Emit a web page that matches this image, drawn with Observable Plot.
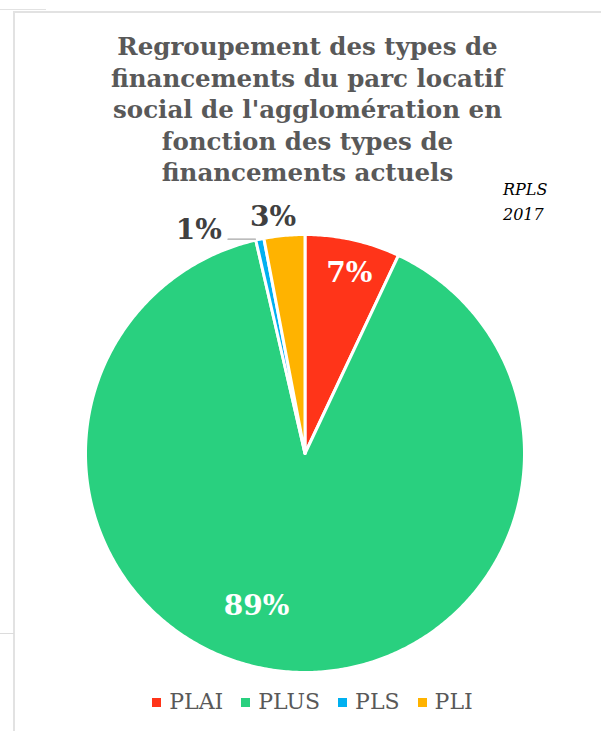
<!DOCTYPE html>
<html><head><meta charset="utf-8">
<script src="https://cdn.jsdelivr.net/npm/d3@7"></script>
<script src="https://cdn.jsdelivr.net/npm/@observablehq/plot@0.6"></script>
<style>
html,body{margin:0;padding:0;background:#fff;}
#page{position:relative;width:601px;height:731px;overflow:hidden;background:#fff;}
#title{position:absolute;left:7px;top:31px;width:601px;text-align:center;font-family:"DejaVu Serif",serif;font-weight:bold;font-size:24.5px;line-height:31.5px;color:#595959;}
#src{position:absolute;left:503px;top:177px;font-family:"DejaVu Serif",serif;font-style:italic;font-size:16px;line-height:25px;color:#000;}
#legend{position:absolute;left:12px;top:687px;width:601px;display:flex;justify-content:center;font-family:"DejaVu Serif",serif;font-size:22px;line-height:30px;color:#595959;}
.item{display:flex;align-items:center;margin:0 9px;}
.sw{width:9px;height:9px;margin-right:8px;display:inline-block;}
#frameL{position:absolute;left:13px;top:11px;width:2px;height:731px;background:#e2e2e2;}
#frameT{position:absolute;left:13px;top:11px;width:601px;height:2px;background:#e2e2e2;}
#frameT2{position:absolute;left:0;top:9px;width:46px;height:1px;background:#e2e2e2;}
#frameB{position:absolute;left:0;top:633px;width:14px;height:1px;background:#dcdcdc;}
#chart{position:absolute;left:0;top:0;}
</style></head>
<body><div id="page">
<div id="frameL"></div><div id="frameT"></div><div id="frameT2"></div><div id="frameB"></div>
<div id="chart"></div>
<div id="title"></div>
<div id="src"></div>
<div id="legend"></div>
</div>
<script>
// ---- data ----
const categories = ["PLAI", "PLUS", "PLS", "PLI"];
const values = [7.0, 89.4, 0.6, 3.0];
const valueLabels = ["7%", "89%", "1%", "3%"];
const colors = ["#ff3419", "#29d07f", "#00b0f0", "#ffb300"];
const titleLines = ["Regroupement des types de", "financements du parc locatif", "social de l'agglomération en", "fonction des types de", "financements actuels"];
const sourceLines = ["RPLS", "2017"];

// ---- layout (not data) ----
const labelLayout = {
  PLAI: {r: 0.85, da: 0.02, fill: "#fff"},
  PLUS: {r: 0.73, da: 0.2, fill: "#fff"},
  PLS: {r: 1.13, da: -0.235, fill: "#404040"},
  PLI: {r: 1.09, da: -0.04, fill: "#404040"}
};

const data = categories.map((c, i) => ({name: c, value: values[i], label: valueLabels[i]}));
const arcs = d3.pie().sort(null).value(d => d.value)(data);

// polygon points for each slice
const pts = [];
for (const a of arcs) {
  const n = Math.max(2, Math.ceil((a.endAngle - a.startAngle) / 0.01));
  pts.push({name: a.data.name, x: 0, y: 0});
  for (let k = 0; k <= n; k++) {
    const t = a.startAngle + (a.endAngle - a.startAngle) * k / n;
    pts.push({name: a.data.name, x: Math.sin(t), y: Math.cos(t)});
  }
}
const labels = arcs.map(a => {
  const L = labelLayout[a.data.name];
  const t = (a.startAngle + a.endAngle) / 2 + L.da;
  return {name: a.data.name, label: a.data.label, x: L.r * Math.sin(t), y: L.r * Math.cos(t), fill: L.fill};
});
// leader line for the small PLS slice
const pls = arcs.find(a => a.data.name === "PLS");
const plsMid = (pls.startAngle + pls.endAngle) / 2;
const leader = [
  {x: Math.sin(plsMid) - 0.02, y: Math.cos(plsMid)},
  {x: Math.sin(plsMid) - 0.145, y: Math.cos(plsMid)}
];

const color = {domain: categories, range: colors};
const chart = Plot.plot({
  width: 601, height: 731,
  marginLeft: 85, marginRight: 77, marginTop: 234, marginBottom: 59,
  x: {domain: [-1, 1], axis: null},
  y: {domain: [-1, 1], axis: null},
  color,
  style: {background: "transparent", overflow: "visible"},
  marks: [
    Plot.line(pts, {x: "x", y: "y", z: "name", fill: "name", stroke: "#fff", strokeWidth: 3, curve: "linear-closed", strokeLinejoin: "round"}),
    Plot.line(leader, {x: "x", y: "y", stroke: "#a6a6a6", strokeWidth: 1.2}),
    Plot.text(labels, {x: "x", y: "y", text: "label", fill: d => d.fill, fontSize: 28, fontWeight: "bold", fontFamily: "DejaVu Serif, serif"})
  ]
});
document.getElementById("chart").appendChild(chart);

document.getElementById("title").innerHTML = titleLines.map(s => `<div>${s}</div>`).join("");
document.getElementById("src").innerHTML = sourceLines.map(s => `<div>${s}</div>`).join("");
document.getElementById("legend").innerHTML = categories.map((c, i) =>
  `<span class="item"><span class="sw" style="background:${colors[i]}"></span>${c}</span>`).join("");
</script>
</body></html>
